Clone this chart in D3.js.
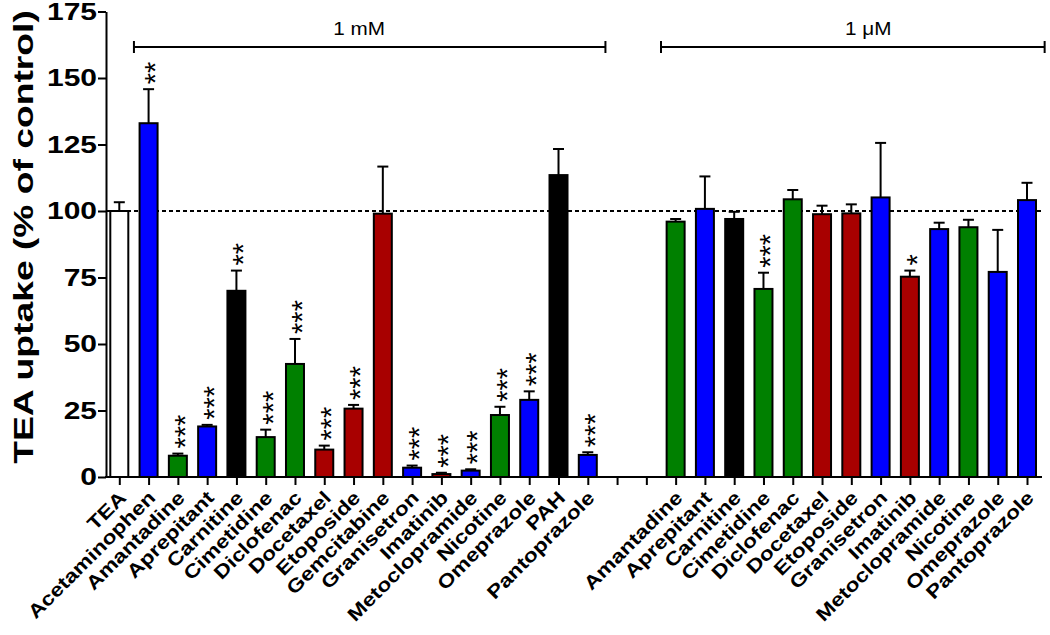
<!doctype html>
<html lang='en'>
<head>
<meta charset='utf-8'>
<title>TEA uptake</title>
<script src='https://cdnjs.cloudflare.com/ajax/libs/d3/7.8.5/d3.min.js'></script>
<style>
	html, body { margin: 0; padding: 0; background: #fff; }
	svg { display: block; font-family: 'Liberation Sans', Arial, sans-serif; }
	.axis path, .axis line { stroke: #000; stroke-width: 2px; }
</style>
</head>
<body>
<div id='container'></div>
<script>
	// 1 mM group
	const drugsHigh = ['TEA', 'Acetaminophen', 'Amantadine', 'Aprepitant', 'Carnitine', 'Cimetidine', 'Diclofenac',
		'Docetaxel', 'Etoposide', 'Gemcitabine', 'Granisetron', 'Imatinib', 'Metoclopramide', 'Nicotine',
		'Omeprazole', 'PAH', 'Pantoprazole'];
	const meanHigh = [100, 133, 8, 19, 70, 15, 42.5, 10.3, 25.7, 99, 3.5, 1.1, 2.4, 23.3, 29, 113.5, 8.3];
	const semHigh = [3.3, 12.8, 0.8, 0.6, 7.6, 2.8, 9.4, 1.5, 1.4, 17.7, 0.8, 0.5, 0.5, 3.1, 3.2, 9.8, 1.0];
	const sigHigh = ['', '**', '***', '***', '**', '***', '***', '***', '***', '', '***', '***', '***', '***', '***', '', '***'];

	// 1 uM group
	const drugsLow = ['Amantadine', 'Aprepitant', 'Carnitine', 'Cimetidine', 'Diclofenac', 'Docetaxel', 'Etoposide',
		'Granisetron', 'Imatinib', 'Metoclopramide', 'Nicotine', 'Omeprazole', 'Pantoprazole'];
	const meanLow = [96, 100.8, 97, 70.7, 104.4, 98.8, 99.1, 105.1, 75.3, 93.2, 93.9, 77.1, 104.1];
	const semLow = [1.0, 12.2, 2.7, 6.1, 3.5, 3.2, 3.4, 20.5, 2.3, 2.4, 2.8, 15.8, 6.5];
	const sigLow = ['', '', '', '***', '', '', '', '', '*', '', '', '', ''];

	const yTicks = [0, 25, 50, 75, 100, 125, 150, 175];
	const groupLabels = ['1 mM', '1 \u03bcM'];

	const blue = '#0000ff', green = '#008000', red = '#a80000', black = '#000000';
	const drugColor = {
		TEA: '#ffffff', Acetaminophen: blue, Amantadine: green, Aprepitant: blue, Carnitine: black,
		Cimetidine: green, Diclofenac: green, Docetaxel: red, Etoposide: red, Gemcitabine: red,
		Granisetron: blue, Imatinib: red, Metoclopramide: blue, Nicotine: green, Omeprazole: blue,
		PAH: black, Pantoprazole: blue
	};

	const width = 1050, height = 635;
	const axisX = 106, axisEnd = 1042;

	const rows = [];
	drugsHigh.forEach((d, i) => rows.push({key: 'h_' + d, name: d, mean: meanHigh[i], sem: semHigh[i], sig: sigHigh[i]}));
	const gaps = ['gap1', 'gap2'];
	drugsLow.forEach((d, i) => rows.push({key: 'l_' + d, name: d, mean: meanLow[i], sem: semLow[i], sig: sigLow[i]}));

	const domain = drugsHigh.map(d => 'h_' + d).concat(gaps, drugsLow.map(d => 'l_' + d));

	const x = d3.scalePoint().domain(domain).range([119.3, 1027]);
	const y = d3.scaleLinear().domain([0, 175]).range([477, 11.5]);
	const step = x.step();
	const barW = 18;

	const svg = d3.select('#container').append('svg')
		.attr('width', width)
		.attr('height', height);

	svg.append('rect').attr('width', width).attr('height', height).attr('fill', '#fff');

	// dashed 100% line
	svg.append('line')
		.attr('x1', axisX).attr('x2', axisEnd)
		.attr('y1', y(100)).attr('y2', y(100))
		.attr('stroke', '#000').attr('stroke-width', 2)
		.attr('stroke-dasharray', '4,3');

	// error bars (upper only)
	const err = svg.append('g').selectAll('g').data(rows).enter().append('g');
	err.append('line')
		.attr('x1', d => x(d.key)).attr('x2', d => x(d.key))
		.attr('y1', d => y(d.mean)).attr('y2', d => y(d.mean + d.sem))
		.attr('stroke', '#000').attr('stroke-width', 2);
	err.append('line')
		.attr('x1', d => x(d.key) - 5.5).attr('x2', d => x(d.key) + 5.5)
		.attr('y1', d => y(d.mean + d.sem)).attr('y2', d => y(d.mean + d.sem))
		.attr('stroke', '#000').attr('stroke-width', 2);

	// bars
	svg.append('g').selectAll('rect').data(rows).enter().append('rect')
		.attr('x', d => x(d.key) - barW / 2)
		.attr('y', d => y(d.mean))
		.attr('width', barW)
		.attr('height', d => y(0) - y(d.mean))
		.attr('fill', d => drugColor[d.name])
		.attr('stroke', '#000')
		.attr('stroke-width', 2);

	// significance stars: one rotated string per bar, stacked upward
	const starSize = 29;
	svg.append('g').selectAll('text').data(rows.filter(d => d.sig)).enter().append('text')
		.attr('transform', d => 'translate(' + (x(d.key) + 0.58 * starSize) + ',' + (y(d.mean + d.sem) - 5) + ') rotate(-90)')
		.attr('font-size', starSize)
		.text(d => d.sig);

	// y axis
	const yAxis = svg.append('g')
		.attr('class', 'axis')
		.attr('transform', 'translate(' + axisX + ',0)')
		.call(d3.axisLeft(y).tickValues(yTicks).tickSize(8).tickSizeOuter(0));
	yAxis.selectAll('text')
		.attr('x', null)
		.attr('transform', 'translate(-9,0) scale(1.25,1)')
		.attr('font-size', 24)
		.attr('font-weight', 'bold')
		.attr('font-family', "'Liberation Sans', Arial, sans-serif")
		.attr('fill', '#000');

	// x axis
	const xAxis = svg.append('g')
		.attr('class', 'axis')
		.attr('transform', 'translate(0,' + y(0) + ')')
		.call(d3.axisBottom(x).tickSize(8).tickSizeOuter(0).tickFormat(''));
	xAxis.select('.domain').remove();
	svg.append('line')
		.attr('x1', axisX - 1).attr('x2', axisEnd)
		.attr('y1', y(0)).attr('y2', y(0))
		.attr('stroke', '#000').attr('stroke-width', 2);

	svg.append('g').selectAll('text').data(rows).enter().append('text')
		.attr('transform', d => 'translate(' + (x(d.key) + 8) + ',' + (y(0) + 22) + ') rotate(-45) scale(1.2,1)')
		.attr('text-anchor', 'end')
		.attr('font-size', 19)
		.attr('font-weight', 'bold')
		.text(d => d.name);

	// y title
	svg.append('text')
		.attr('transform', 'translate(33,237) rotate(-90) scale(1.33,1)')
		.attr('text-anchor', 'middle')
		.attr('font-size', 28)
		.attr('font-weight', 'bold')
		.text('TEA uptake (% of control)');

	// concentration brackets
	const brackets = [
		{label: groupLabels[0], from: 'h_' + drugsHigh[1], to: 'h_' + drugsHigh[drugsHigh.length - 1], dx: -9},
		{label: groupLabels[1], from: 'l_' + drugsLow[0], to: 'l_' + drugsLow[drugsLow.length - 1], dx: 17}
	];
	const br = svg.append('g').selectAll('g').data(brackets).enter().append('g');
	br.append('line')
		.attr('x1', d => x(d.from) - step / 2).attr('x2', d => x(d.to) + step / 2 + 3)
		.attr('y1', 47).attr('y2', 47)
		.attr('stroke', '#000').attr('stroke-width', 2);
	br.append('line')
		.attr('x1', d => x(d.from) - step / 2).attr('x2', d => x(d.from) - step / 2)
		.attr('y1', 41).attr('y2', 53)
		.attr('stroke', '#000').attr('stroke-width', 2);
	br.append('line')
		.attr('x1', d => x(d.to) + step / 2 + 3).attr('x2', d => x(d.to) + step / 2 + 3)
		.attr('y1', 41).attr('y2', 53)
		.attr('stroke', '#000').attr('stroke-width', 2);
	br.append('text')
		.attr('transform', d => 'translate(' + ((x(d.from) + x(d.to)) / 2 + d.dx) + ',35) scale(1.15,1)')
		.attr('text-anchor', 'middle')
		.attr('font-size', 18)
		.text(d => d.label);
</script>
</body>
</html>
